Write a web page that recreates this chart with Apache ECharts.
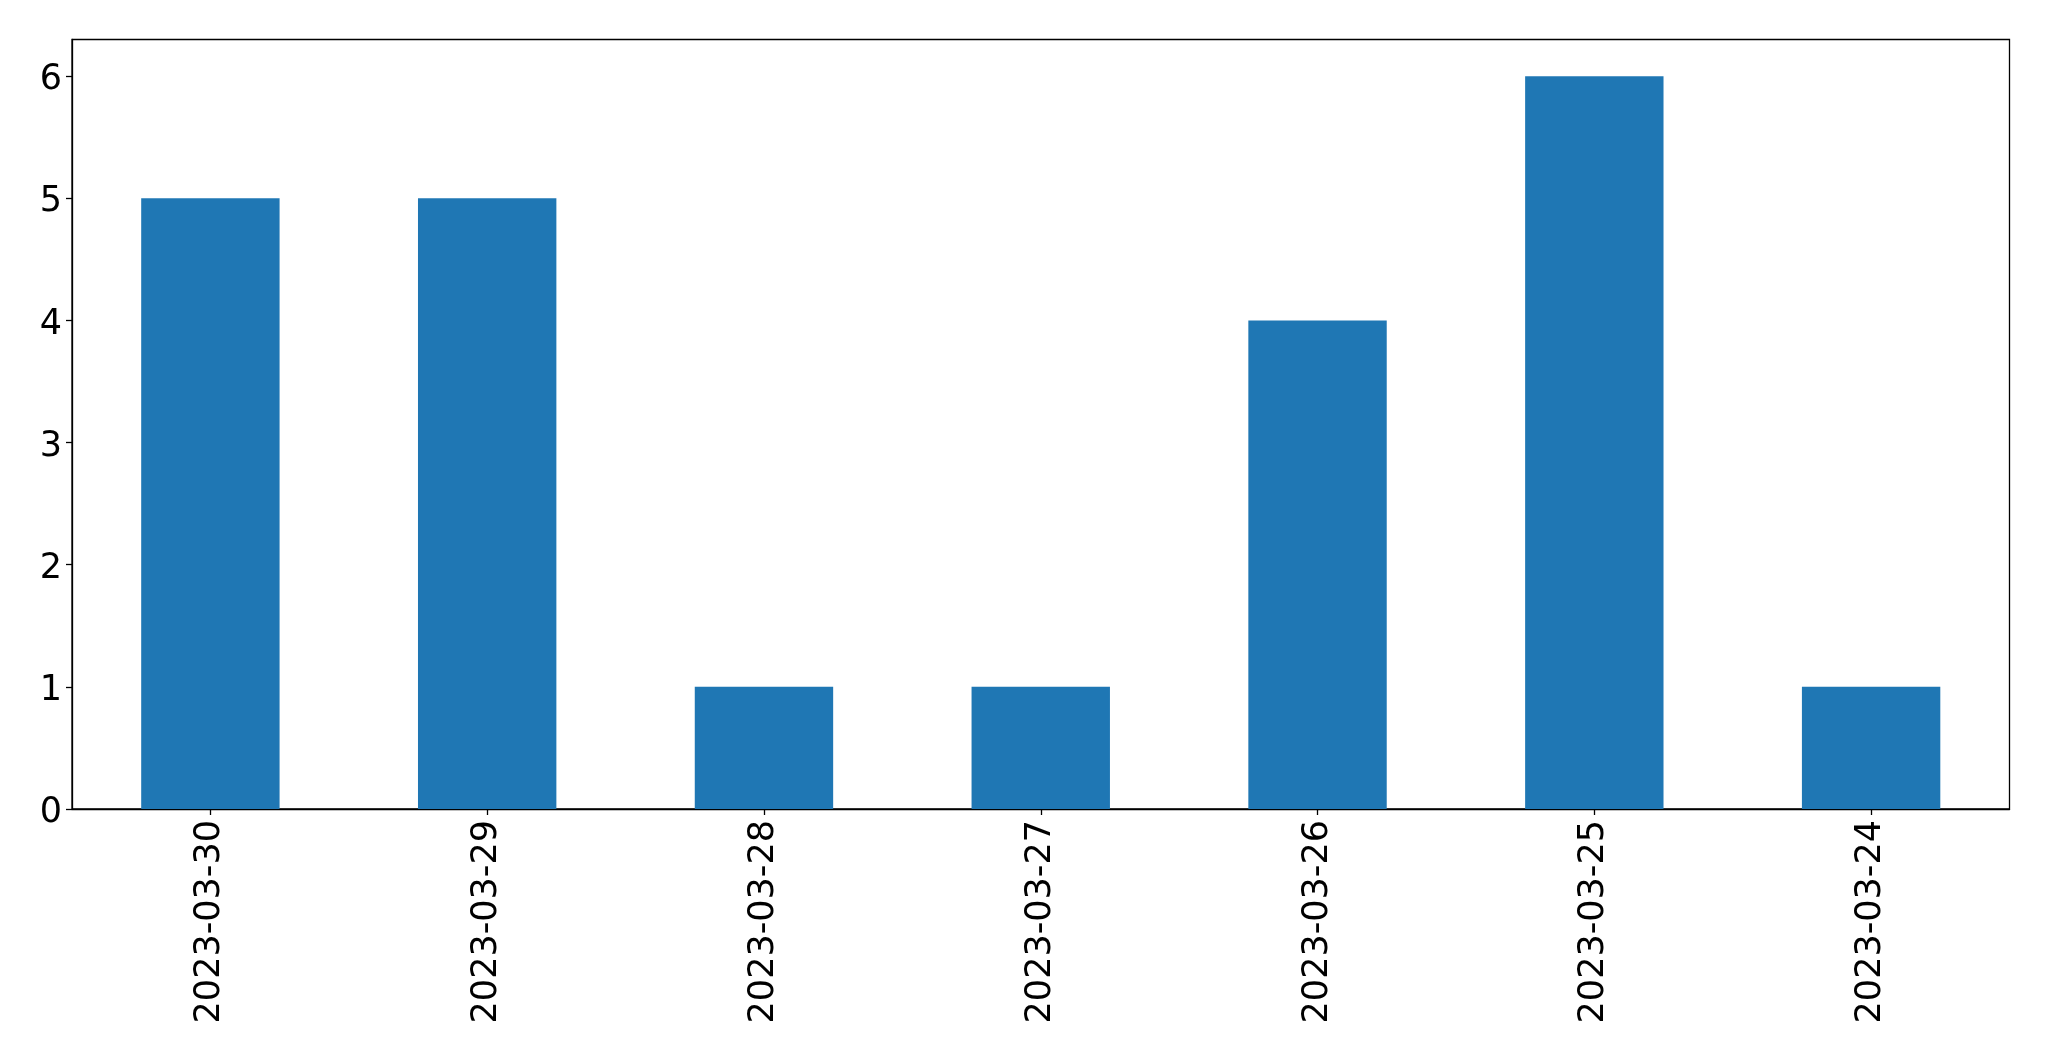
<!DOCTYPE html>
<html>
<head>
<meta charset="utf-8">
<script src="https://cdn.jsdelivr.net/npm/echarts@6/dist/echarts.min.js"></script>
<style>
html,body{margin:0;padding:0;background:#fff;}
#chart{width:2049px;height:1061px;}
</style>
</head>
<body>
<div id="chart"></div>
<script>
const categories = ["2023-03-30","2023-03-29","2023-03-28","2023-03-27","2023-03-26","2023-03-25","2023-03-24"];
const values = [5, 5, 1, 1, 4, 6, 1];
const yTicks = [0, 1, 2, 3, 4, 5, 6];

const chart = echarts.init(document.getElementById('chart'), null, {renderer: 'canvas'});
const font = 'DejaVu Sans';
chart.setOption({
  animation: false,
  backgroundColor: '#ffffff',
  grid: {
    left: 72, right: 2049 - 2009.5, top: 39.5, bottom: 1061 - 809,
    show: true, borderColor: '#000', borderWidth: 1.3, backgroundColor: 'transparent'
  },
  xAxis: {
    type: 'category',
    data: categories,
    boundaryGap: true,
    axisLine: {show: true, lineStyle: {color: '#000', width: 1.3}},
    axisTick: {show: true, alignWithLabel: true, length: 6, lineStyle: {color: '#000', width: 1.3}},
    axisLabel: {rotate: 90, margin: 11, fontFamily: font, fontSize: 35, color: '#000'},
    splitLine: {show: false}
  },
  yAxis: {
    type: 'value',
    min: 0, max: 6.3,
    axisLine: {show: true, lineStyle: {color: '#000', width: 1.3}},
    axisTick: {show: true, length: 6, customValues: yTicks, lineStyle: {color: '#000', width: 1.3}},
    axisLabel: {
      margin: 10, fontFamily: font, fontSize: 35, color: '#000',
      customValues: yTicks,
      formatter: function (v) { return '{d|' + v + '}'; },
      rich: {d: {fontFamily: font, fontSize: 35, color: '#000', padding: [8, 0, 0, 0]}}
    },
    splitLine: {show: false}
  },
  series: [{
    type: 'bar',
    data: values,
    barCategoryGap: '50%',
    itemStyle: {color: '#1f77b4'}
  }]
});
</script>
</body>
</html>
